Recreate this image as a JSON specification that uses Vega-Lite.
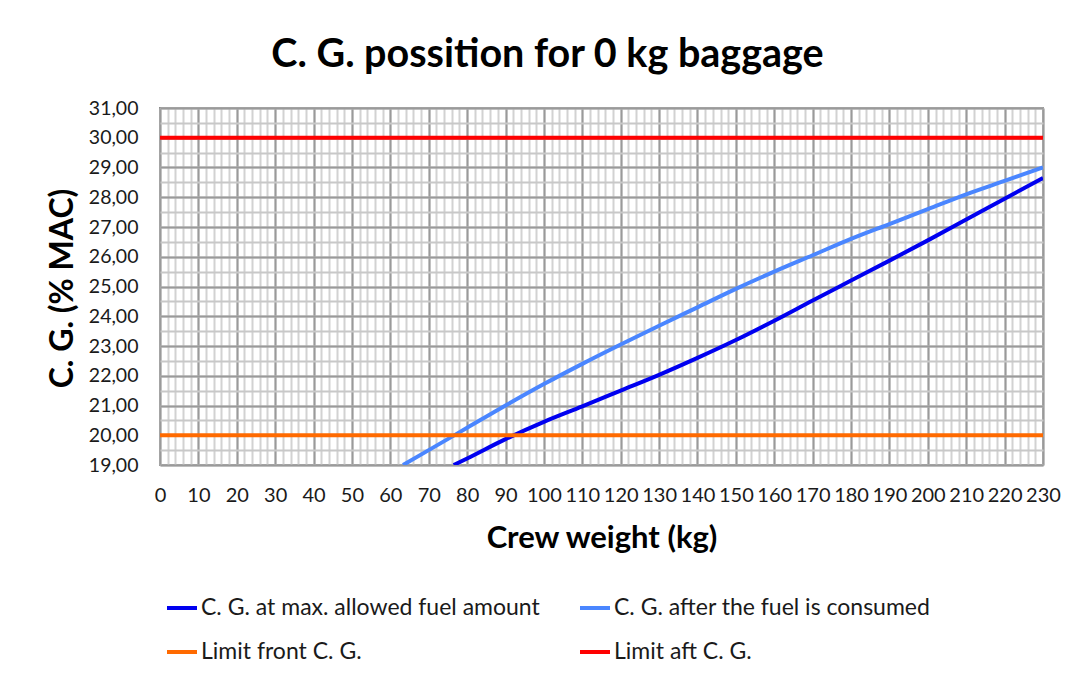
{
  "$schema": "https://vega.github.io/schema/vega-lite/v6.json",
  "width": 883,
  "height": 357,
  "autosize": {"type": "none"},
  "padding": {"left": 160, "top": 108, "right": 31, "bottom": 212},
  "background": "white",
  "title": {
    "text": "C. G. possition for 0 kg baggage",
    "font": "Lato",
    "fontSize": 39.5,
    "fontWeight": "bold",
    "color": "#000000",
    "anchor": "middle",
    "frame": "group",
    "dx": -54,
    "offset": 23
  },
  "data": {
    "values": [
      {"series": "C. G. at max. allowed fuel amount", "x": 76.5, "y": 19.0},
      {"series": "C. G. at max. allowed fuel amount", "x": 80, "y": 19.22},
      {"series": "C. G. at max. allowed fuel amount", "x": 90, "y": 19.87},
      {"series": "C. G. at max. allowed fuel amount", "x": 100, "y": 20.45},
      {"series": "C. G. at max. allowed fuel amount", "x": 110, "y": 20.97},
      {"series": "C. G. at max. allowed fuel amount", "x": 120, "y": 21.5},
      {"series": "C. G. at max. allowed fuel amount", "x": 130, "y": 22.03},
      {"series": "C. G. at max. allowed fuel amount", "x": 140, "y": 22.6},
      {"series": "C. G. at max. allowed fuel amount", "x": 150, "y": 23.2},
      {"series": "C. G. at max. allowed fuel amount", "x": 160, "y": 23.85},
      {"series": "C. G. at max. allowed fuel amount", "x": 170, "y": 24.53},
      {"series": "C. G. at max. allowed fuel amount", "x": 180, "y": 25.2},
      {"series": "C. G. at max. allowed fuel amount", "x": 190, "y": 25.87},
      {"series": "C. G. at max. allowed fuel amount", "x": 200, "y": 26.55},
      {"series": "C. G. at max. allowed fuel amount", "x": 210, "y": 27.25},
      {"series": "C. G. at max. allowed fuel amount", "x": 220, "y": 27.95},
      {"series": "C. G. at max. allowed fuel amount", "x": 230, "y": 28.65},
      {"series": "C. G. after the fuel is consumed", "x": 63.3, "y": 19.0},
      {"series": "C. G. after the fuel is consumed", "x": 70, "y": 19.5},
      {"series": "C. G. after the fuel is consumed", "x": 80, "y": 20.25},
      {"series": "C. G. after the fuel is consumed", "x": 90, "y": 21.0},
      {"series": "C. G. after the fuel is consumed", "x": 100, "y": 21.72},
      {"series": "C. G. after the fuel is consumed", "x": 110, "y": 22.4},
      {"series": "C. G. after the fuel is consumed", "x": 120, "y": 23.05},
      {"series": "C. G. after the fuel is consumed", "x": 130, "y": 23.68},
      {"series": "C. G. after the fuel is consumed", "x": 140, "y": 24.3},
      {"series": "C. G. after the fuel is consumed", "x": 150, "y": 24.92},
      {"series": "C. G. after the fuel is consumed", "x": 160, "y": 25.5},
      {"series": "C. G. after the fuel is consumed", "x": 170, "y": 26.05},
      {"series": "C. G. after the fuel is consumed", "x": 180, "y": 26.6},
      {"series": "C. G. after the fuel is consumed", "x": 190, "y": 27.1},
      {"series": "C. G. after the fuel is consumed", "x": 200, "y": 27.6},
      {"series": "C. G. after the fuel is consumed", "x": 210, "y": 28.1},
      {"series": "C. G. after the fuel is consumed", "x": 220, "y": 28.55},
      {"series": "C. G. after the fuel is consumed", "x": 230, "y": 29.0},
      {"series": "Limit front C. G.", "x": 0, "y": 20},
      {"series": "Limit front C. G.", "x": 230, "y": 20},
      {"series": "Limit aft C. G.", "x": 0, "y": 30},
      {"series": "Limit aft C. G.", "x": 230, "y": 30}
    ]
  },
  "layer": [
    {
      "mark": {"type": "line", "opacity": 0},
      "encoding": {
        "x": {
          "field": "x", "type": "quantitative",
          "scale": {"domain": [0, 230], "nice": false, "zero": false},
          "axis": {
            "orient": "top", "labels": false, "ticks": false, "domain": false, "title": null,
            "grid": true, "gridColor": "#d2d2d2", "gridWidth": 2, "gridOpacity": 1,
            "values": [0,2,4,6,8,10,12,14,16,18,20,22,24,26,28,30,32,34,36,38,40,42,44,46,48,50,52,54,56,58,60,62,64,66,68,70,72,74,76,78,80,82,84,86,88,90,92,94,96,98,100,102,104,106,108,110,112,114,116,118,120,122,124,126,128,130,132,134,136,138,140,142,144,146,148,150,152,154,156,158,160,162,164,166,168,170,172,174,176,178,180,182,184,186,188,190,192,194,196,198,200,202,204,206,208,210,212,214,216,218,220,222,224,226,228,230]
          }
        },
        "y": {
          "field": "y", "type": "quantitative",
          "scale": {"domain": [19, 31], "nice": false, "zero": false},
          "axis": {
            "orient": "right", "labels": false, "ticks": false, "domain": false, "title": null,
            "grid": true, "gridColor": "#c8c8c8", "gridWidth": 2, "gridOpacity": 1,
            "values": [19,19.5,20,20.5,21,21.5,22,22.5,23,23.5,24,24.5,25,25.5,26,26.5,27,27.5,28,28.5,29,29.5,30,30.5,31]
          }
        }
      }
    },
    {
      "mark": {"type": "line", "strokeWidth": 4, "interpolate": "monotone", "clip": true},
      "encoding": {
        "x": {
          "field": "x", "type": "quantitative",
          "axis": {
            "orient": "bottom",
            "values": [0,10,20,30,40,50,60,70,80,90,100,110,120,130,140,150,160,170,180,190,200,210,220,230],
            "grid": true, "gridColor": "#9a9a9a", "gridWidth": 2, "gridOpacity": 1,
            "ticks": false, "domain": false,
            "labelFont": "Lato", "labelFontSize": 20, "labelColor": "#1a1a1a",
            "labelPadding": 20, "labelOverlap": false, "labelBound": false, "labelFlush": false,
            "title": "Crew weight (kg)", "titleFont": "Lato", "titleFontSize": 31, "titleFontWeight": "bold",
            "titleColor": "#000000", "titleX": 441.5, "titleY": 82, "titleAlign": "center", "titleBaseline": "alphabetic"
          }
        },
        "y": {
          "field": "y", "type": "quantitative",
          "axis": {
            "orient": "left",
            "values": [19,20,21,22,23,24,25,26,27,28,29,30,31],
            "grid": true, "gridColor": "#9a9a9a", "gridWidth": 2, "gridOpacity": 1,
            "ticks": false, "domain": false,
            "labelFont": "Lato", "labelFontSize": 19.5, "labelColor": "#1a1a1a",
            "labelPadding": 22, "labelOverlap": false, "labelBound": false, "labelFlush": false,
            "labelExpr": "replace(format(datum.value, '.2f'), '.', ',')",
            "title": "C. G. (% MAC)", "titleFont": "Lato", "titleFontSize": 32, "titleFontWeight": "bold",
            "titleColor": "#000000", "titleX": -98, "titleY": 180, "titleAngle": -90,
            "titleAlign": "center", "titleBaseline": "middle"
          }
        },
        "color": {
          "field": "series", "type": "nominal",
          "scale": {
            "domain": ["C. G. at max. allowed fuel amount", "C. G. after the fuel is consumed", "Limit front C. G.", "Limit aft C. G."],
            "range": ["#0000f0", "#4a86ff", "#ff6a00", "#ff0000"]
          },
          "legend": {
            "orient": "none", "legendX": 5, "legendY": 483, "columns": 2, "direction": "horizontal",
            "title": null, "padding": 0,
            "symbolType": "stroke", "symbolSize": 900, "symbolStrokeWidth": 4,
            "labelFont": "Lato", "labelFontSize": 23, "labelColor": "#1a1a1a", "labelOffset": 2, "labelLimit": 600,
            "columnPadding": 32, "rowPadding": 15
          }
        }
      }
    }
  ],
  "resolve": {"axis": {"x": "independent", "y": "independent"}},
  "config": {
    "font": "Lato",
    "view": {"stroke": "#8c8c8c", "strokeWidth": 2}
  }
}
